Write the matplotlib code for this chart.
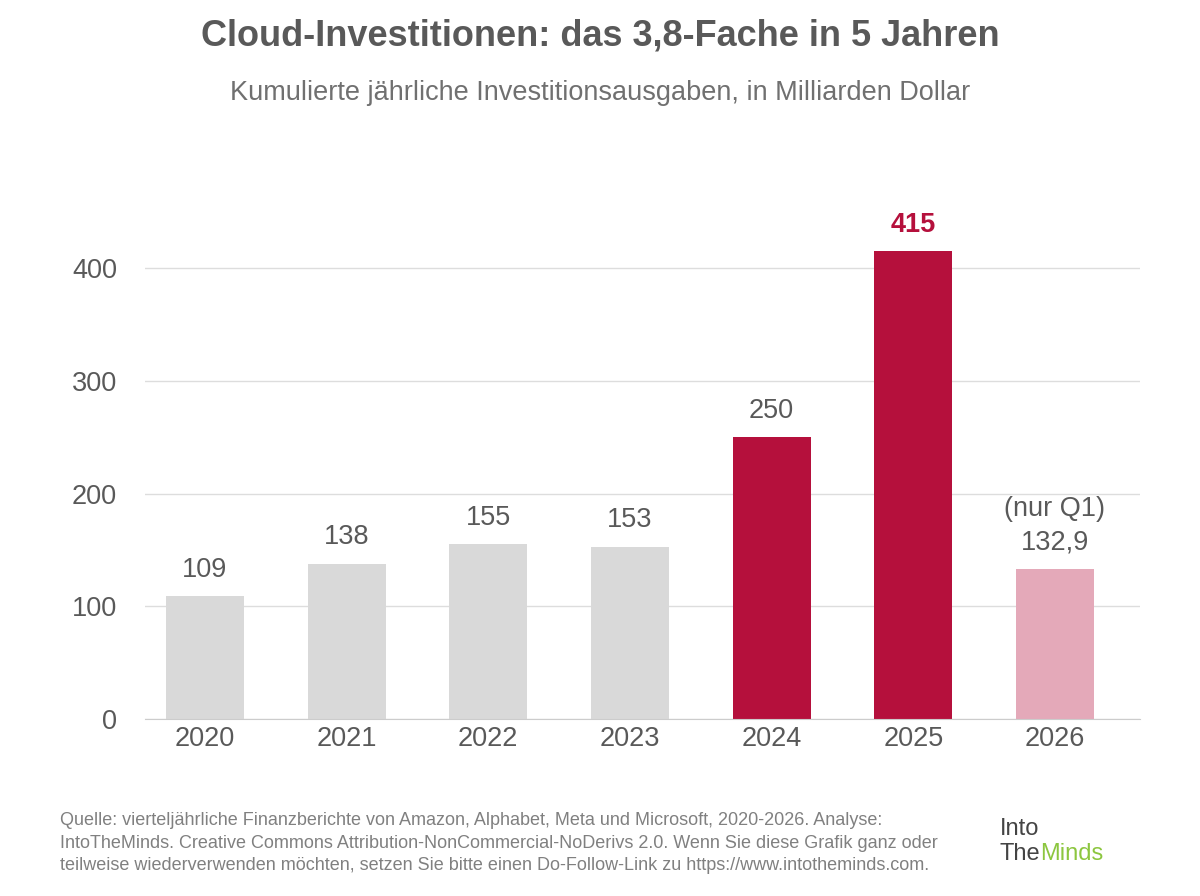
import matplotlib
matplotlib.use('Agg')
import matplotlib.pyplot as plt

plt.rcParams['font.family'] = ['Liberation Sans', 'DejaVu Sans']

years = ['2020', '2021', '2022', '2023', '2024', '2025', '2026']
values = [109, 138, 155, 153, 250, 415, 132.9]
labels = ['109', '138', '155', '153', '250', '415', '132,9']
colors = ['#d9d9d9'] * 4 + ['#b5103c', '#b5103c', '#e4a9b9']

TXT = '#595959'

fig = plt.figure(figsize=(12, 8.96), dpi=100)
ax = fig.add_axes([145/1200, 177/896, 995/1200, 507/896])
x = list(range(len(years)))
ax.bar(x, values, width=0.55, color=colors, zorder=2)
ax.set_xlim(-0.423, 6.6)
ax.set_ylim(0, 450)
ax.set_yticks([0, 100, 200, 300, 400])
ax.grid(axis='y', color='#dddddd', linewidth=1, zorder=0)
for s in ['top', 'right', 'left']:
    ax.spines[s].set_visible(False)
ax.spines['bottom'].set_color('#cccccc')
ax.tick_params(length=0, labelsize=19.5, colors=TXT)
ax.tick_params(axis='y', pad=20)
ax.tick_params(axis='x', pad=5)
ax.set_xticks(x)
ax.set_xticklabels(years)

for i, (v, l) in enumerate(zip(values, labels)):
    if i == 5:
        ax.text(i, v + 12, l, ha='center', va='bottom', fontsize=19.5, color='#b5103c', fontweight='bold')
    else:
        ax.text(i, v + 12, l, ha='center', va='bottom', fontsize=19.5, color=TXT)
ax.text(6, 132.9 + 42, '(nur Q1)', ha='center', va='bottom', fontsize=19.5, color=TXT)

fig.text(0.5, 0.96, 'Cloud-Investitionen: das 3,8-Fache in 5 Jahren', ha='center', va='center',
         fontsize=26, fontweight='bold', color=TXT)
fig.text(0.5, 0.896, 'Kumulierte jährliche Investitionsausgaben, in Milliarden Dollar', ha='center',
         va='center', fontsize=19.5, color='#707070')
fig.text(60/1200, 0.059, 'Quelle: vierteljährliche Finanzberichte von Amazon, Alphabet, Meta und Microsoft, 2020-2026. Analyse:\n'
         'IntoTheMinds. Creative Commons Attribution-NonCommercial-NoDerivs 2.0. Wenn Sie diese Grafik ganz oder\n'
         'teilweise wiederverwenden möchten, setzen Sie bitte einen Do-Follow-Link zu https://www.intotheminds.com.',
         ha='left', va='center', fontsize=13, color='#808080', linespacing=1.45)
fig.text(1000/1200, 0.075, 'Into', ha='left', va='center', fontsize=17, color='#444444')
fig.text(1000/1200, 0.047, 'The', ha='left', va='center', fontsize=17, color='#444444')
fig.text(1040/1200, 0.047, 'Minds', ha='left', va='center', fontsize=17, color='#8cc63f')

fig.savefig('out.png', dpi=100, facecolor='white')
